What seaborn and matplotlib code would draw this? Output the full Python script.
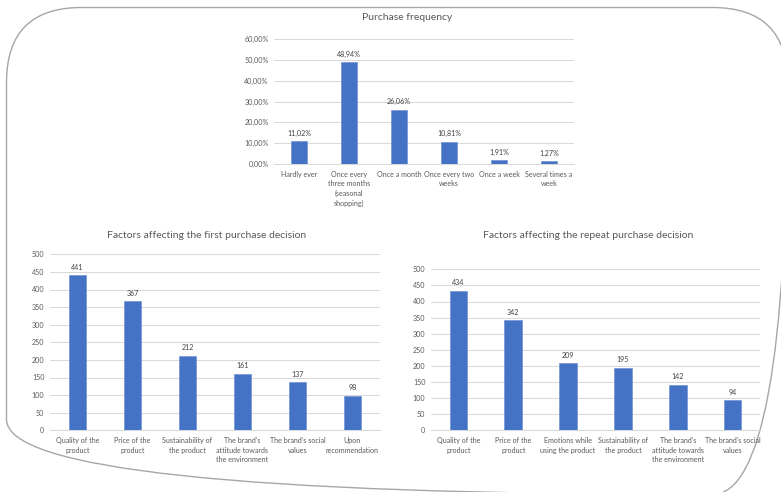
import matplotlib
matplotlib.use("Agg")
import matplotlib.pyplot as plt
from matplotlib.patches import FancyBboxPatch
import seaborn as sns
import pandas as pd

# ---- data ----
freq_categories = [
    "Hardly ever",
    "Once every\nthree months\n(seasonal\nshopping)",
    "Once a month",
    "Once every two\nweeks",
    "Once a week",
    "Several times a\nweek",
]
freq_share = [11.02, 48.94, 26.06, 10.81, 1.91, 1.27]
freq_ticks = [0, 10, 20, 30, 40, 50, 60]

first_factors = [
    "Quality of the\nproduct",
    "Price of the\nproduct",
    "Sustainability of\nthe product",
    "The brand's\nattitude towards\nthe environment",
    "The brand's social\nvalues",
    "Upon\nrecommendation",
]
first_counts = [441, 367, 212, 161, 137, 98]

repeat_factors = [
    "Quality of the\nproduct",
    "Price of the\nproduct",
    "Emotions while\nusing the product",
    "Sustainability of\nthe product",
    "The brand's\nattitude towards\nthe environment",
    "The brand's social\nvalues",
]
repeat_counts = [434, 342, 209, 195, 142, 94]
count_ticks = [0, 50, 100, 150, 200, 250, 300, 350, 400, 450, 500]

titles = [
    "Purchase frequency",
    "Factors affecting the first purchase decision",
    "Factors affecting the repeat purchase decision",
]

# ---- style ----
sns.set_theme(style="white")
plt.rcParams["font.family"] = ["Lato", "DejaVu Sans"]

BAR = "#4472C4"
GRID = "#d9d9d9"
TEXT = "#595959"
W, H = 781, 492
SMALL = 5.1

fig = plt.figure(figsize=(W / 100, H / 100), dpi=100)
fig.patch.set_facecolor("white")

# rounded outline behind the charts, drawn in pixel units
bg = fig.add_axes([0, 0, 1, 1], zorder=0)
bg.set_xlim(0, W)
bg.set_ylim(H, 0)
bg.axis("off")
bg.add_patch(FancyBboxPatch((6.5, 7.5), 781, 487,
                            boxstyle="round,pad=0,rounding_size=75",
                            fill=False, edgecolor="#a6a6a6", linewidth=1.0))


def place(x0, y0, x1, y1):
    return fig.add_axes([x0 / W, 1 - y1 / H, (x1 - x0) / W, (y1 - y0) / H], zorder=1)


def draw(ax, cats, vals, ticks, labels, tick_fmt):
    df = pd.DataFrame({"cat": cats, "val": vals})
    sns.barplot(data=df, x="cat", y="val", ax=ax, color=BAR, width=0.32,
                saturation=1, edgecolor="#6f93d6", linewidth=0.5)
    ax.set_xlim(-0.5, len(cats) - 0.5)
    ax.set_ylim(ticks[0], ticks[-1])
    ax.set_yticks(ticks)
    ax.set_yticklabels([tick_fmt(t) for t in ticks])
    ax.set_xlabel("")
    ax.set_ylabel("")
    ax.set_facecolor("none")
    ax.grid(axis="y", color=GRID, linewidth=0.75)
    ax.set_axisbelow(True)
    for s in ["top", "right", "left"]:
        ax.spines[s].set_visible(False)
    ax.spines["bottom"].set_color(GRID)
    ax.spines["bottom"].set_linewidth(0.75)
    ax.tick_params(axis="both", length=0, labelsize=SMALL, labelcolor=TEXT)
    ax.tick_params(axis="y", pad=4)
    ax.tick_params(axis="x", pad=5)
    for lab in ax.get_xticklabels():
        lab.set_linespacing(1.4)
    ax.bar_label(ax.containers[0], labels=labels, padding=3.2,
                 fontsize=SMALL, color="#404040")


ax1 = place(274, 39.3, 574, 164)
draw(ax1, freq_categories, freq_share, freq_ticks,
     [f"{v:.2f}%".replace(".", ",") for v in freq_share],
     lambda t: f"{t:.2f}%".replace(".", ","))

ax2 = place(50, 254.3, 380, 430.3)
draw(ax2, first_factors, first_counts, count_ticks,
     [str(v) for v in first_counts], lambda t: str(t))

ax3 = place(431, 269.3, 760, 430.3)
draw(ax3, repeat_factors, repeat_counts, count_ticks,
     [str(v) for v in repeat_counts], lambda t: str(t))

for (x, y), t in zip([(407, 17.3), (207, 235), (588, 235)], titles):
    fig.text(x / W, 1 - y / H, t, ha="center", va="center",
             fontsize=7.45, color=TEXT)

fig.savefig("out.png", dpi=100, facecolor="white")
